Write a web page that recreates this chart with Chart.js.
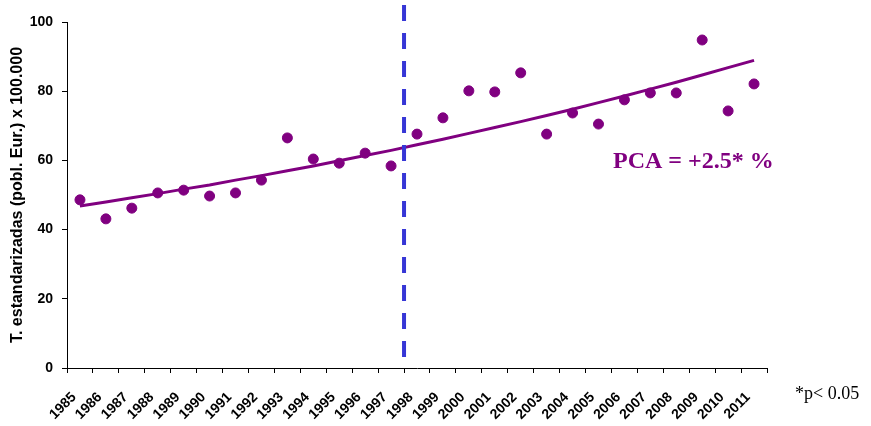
<!doctype html>
<html lang="es">
<head>
  <meta charset="utf-8">
  <title>Tasas estandarizadas 1985-2011</title>
  <script src="https://cdn.jsdelivr.net/npm/chart.js@4.4.1/dist/chart.umd.min.js"></script>
  <style>
    html, body { margin: 0; padding: 0; background: #fff; }
    #chart { display: block; }
  </style>
</head>
<body>
  <canvas id="chart" width="871" height="426"></canvas>
  <script>
    // years on the x axis
    const years = ['1985','1986','1987','1988','1989','1990','1991','1992','1993','1994',
      '1995','1996','1997','1998','1999','2000','2001','2002','2003','2004',
      '2005','2006','2007','2008','2009','2010','2011'];
    // observed rates (dots)
    const observed = [48.6, 43.1, 46.2, 50.6, 51.4, 49.7, 50.6, 54.3, 66.5, 60.4,
      59.2, 62.1, 58.4, 67.6, 72.3, 80.1, 79.8, 85.3, 67.6, 73.7,
      70.5, 77.5, 79.5, 79.5, 94.8, 74.3, 82.1];
    // fitted trend (line)
    const fitted = [46.8, 48.0, 49.2, 50.4, 51.7, 52.9, 54.3, 55.6, 57.0, 58.4,
      59.9, 61.4, 62.9, 64.5, 66.1, 67.8, 69.5, 71.2, 73.0, 74.8,
      76.7, 78.6, 80.6, 82.6, 84.7, 86.8, 88.9];
    const yTicks = [0, 20, 40, 60, 80, 100];
    const breakAfter = '1997';

    const purple = '#800080';
    const sans = 'Arial, "Liberation Sans", sans-serif';
    const serif = '"Liberation Serif", "Times New Roman", serif';

    const extras = {
      id: 'extras',
      afterDatasetsDraw(chart) {
        const ctx = chart.ctx;
        const x = chart.scales.x;
        const i = years.indexOf(breakAfter);
        const bx = (x.getPixelForValue(i) + x.getPixelForValue(i + 1)) / 2;
        ctx.save();
        ctx.strokeStyle = '#3636D6';
        ctx.lineWidth = 4;
        ctx.setLineDash([16, 12]);
        ctx.beginPath();
        ctx.moveTo(bx, 5);
        ctx.lineTo(bx, chart.chartArea.bottom);
        ctx.stroke();
        ctx.setLineDash([]);

        ctx.fillStyle = purple;
        ctx.font = 'bold 24px ' + serif;
        ctx.textBaseline = 'middle';
        ctx.textAlign = 'left';
        ctx.fillText('PCA = +2.5* %', 613, 162);

        ctx.fillStyle = '#000';
        ctx.font = '18px ' + serif;
        ctx.fillText('*p< 0.05', 795, 394);
        ctx.restore();
      }
    };

    new Chart(document.getElementById('chart'), {
      type: 'line',
      data: {
        labels: years,
        datasets: [
          {
            data: observed,
            showLine: false,
            pointRadius: 5,
            pointHoverRadius: 5,
            pointBackgroundColor: purple,
            pointBorderColor: purple,
            borderColor: purple
          },
          {
            data: fitted,
            borderColor: purple,
            borderWidth: 3,
            pointRadius: 0,
            fill: false,
            tension: 0
          }
        ]
      },
      options: {
        responsive: false,
        animation: false,
        layout: { padding: { top: 22, right: 104, bottom: 0, left: 0 } },
        plugins: { legend: { display: false }, tooltip: { enabled: false } },
        scales: {
          x: {
            type: 'category',
            offset: true,
            grid: { offset: true, drawOnChartArea: false, drawTicks: true, tickLength: 5, color: '#000' },
            border: { color: '#000', width: 1 },
            ticks: {
              autoSkip: false,
              minRotation: 45,
              maxRotation: 45,
              padding: 16,
              labelOffset: -6,
              color: '#000',
              font: { family: sans, size: 14, weight: 'bold' }
            },
            afterFit(scale) { scale.height = 58; }
          },
          y: {
            min: 0,
            max: 100,
            afterBuildTicks(scale) { scale.ticks = yTicks.map(v => ({ value: v })); },
            grid: { drawOnChartArea: false, drawTicks: true, tickLength: 5, color: '#000' },
            border: { color: '#000', width: 1 },
            ticks: {
              padding: 9,
              color: '#000',
              font: { family: sans, size: 14, weight: 'bold' }
            },
            title: {
              display: true,
              text: 'T. estandarizadas (pobl. Eur.) x 100.000',
              color: '#000',
              padding: { top: 8, bottom: 0 },
              font: { family: sans, size: 16, weight: 'bold' }
            },
            afterFit(scale) { scale.width = 67; }
          }
        }
      },
      plugins: [extras]
    });
  </script>
</body>
</html>
